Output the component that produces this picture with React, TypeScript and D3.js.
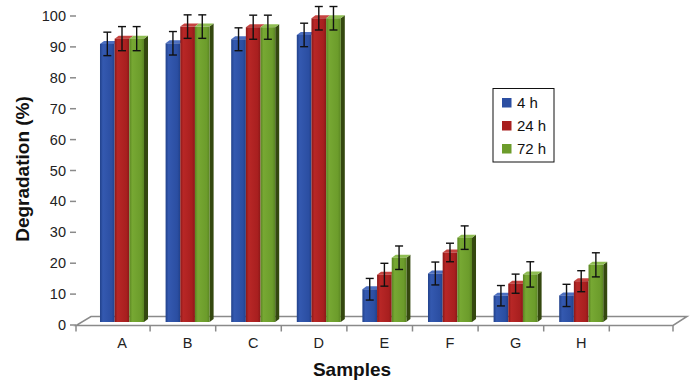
import React from "react";
import * as d3 from "d3";

const categories = ["A", "B", "C", "D", "E", "F", "G", "H", ""];
const seriesNames = ["4 h", "24 h", "72 h"];
const values4h = [90, 90.2, 91.5, 92.9, 10.6, 15.7, 8.5, 8.6];
const values24h = [91.7, 95.6, 95.4, 98.3, 15.3, 22.5, 12.4, 13.2];
const values72h = [91.7, 95.6, 95.4, 98.3, 20.8, 27.3, 15.4, 18.5];
const err4h = [3.8, 3.8, 3.7, 3.8, 3.5, 3.7, 3.3, 3.6];
const err24h = [3.9, 3.8, 3.9, 3.8, 3.7, 3.0, 3.1, 3.4];
const err72h = [3.9, 3.8, 3.9, 3.8, 3.8, 3.8, 4.1, 3.9];
const yTicks = [0, 10, 20, 30, 40, 50, 60, 70, 80, 90, 100];

const colors = [
  { base: "#2b4ea2", light: "#3459b0", dark: "#21418a", top: "#4d6fc0" },
  { base: "#a81f1f", light: "#b82726", dark: "#8a1818", top: "#c64440" },
  { base: "#6c9c2b", light: "#77a833", dark: "#5a8522", top: "#8fbd52" },
];
const sideColor = "#34480f";

const FONT = "'Liberation Sans', Arial, sans-serif";

export default function App() {
  const W = 690, H = 380;
  const y = d3.scaleLinear().domain([0, 100]).range([325, 16]);
  const x = d3.scaleBand<string>().domain(categories).range([89.2, 679.6]).paddingInner(0.329).paddingOuter(0.1645);
  const xs = d3.scaleBand<string>().domain(seriesNames).range([0, x.bandwidth()]);
  const series = [values4h, values24h, values72h];
  const errs = [err4h, err24h, err72h];
  const barLift = 3;
  const dx = 4, dy = -3;

  const floorFront = 325.5, floorBack = 316.5;
  const floorL = 76, floorR = 673, depthX = 15;

  const bars: React.ReactNode[] = [];
  const errBars: React.ReactNode[] = [];
  categories.slice(0, 8).forEach((c, i) => {
    const gx = x(c)!;
    series.forEach((s, k) => {
      const v = s[i];
      const x0 = gx + xs(seriesNames[k])!;
      const w = xs.bandwidth();
      const yt = y(v) - barLift;
      const yb = y(0) - barLift;
      const col = colors[k];
      bars.push(
        <g key={`b${i}-${k}`}>
          {k === 2 && (
            <path
              d={`M${x0 + w},${yt} L${x0 + w + dx},${yt + dy} L${x0 + w + dx},${yb + dy} L${x0 + w},${yb} Z`}
              fill={sideColor}
            />
          )}
          <path
            d={`M${x0},${yt} L${x0 + dx},${yt + dy} L${x0 + w + dx},${yt + dy} L${x0 + w},${yt} Z`}
            fill={col.top}
          />
          <rect x={x0} y={yt} width={w} height={yb - yt} fill={`url(#grad${k})`} />
        </g>
      );
      const cx = x0 + w / 2;
      const e = errs[k][i];
      const y1 = y(v + e) - barLift, y2 = y(v - e) - barLift;
      errBars.push(
        <g key={`e${i}-${k}`} stroke="#111" strokeWidth={1.4}>
          <line x1={cx} x2={cx} y1={y1} y2={y2} />
          <line x1={cx - 4} x2={cx + 4} y1={y1} y2={y1} />
          <line x1={cx - 4} x2={cx + 4} y1={y2} y2={y2} />
        </g>
      );
    });
  });

  const catTicks = [floorL, ...categories.slice(1).map((c) => x(c)! - 15.5), floorR];
  const ticksFinal = catTicks.slice(0, 9).concat([floorR]);

  return (
    <svg width={W} height={H} style={{ position: "absolute", left: 0, top: 0, background: "#fff" }}>
      <defs>
        {colors.map((c, k) => (
          <linearGradient key={k} id={`grad${k}`} x1="0" x2="1" y1="0" y2="0">
            <stop offset="0" stopColor={c.dark} />
            <stop offset="0.2" stopColor={c.light} />
            <stop offset="0.8" stopColor={c.base} />
            <stop offset="1" stopColor={c.dark} />
          </linearGradient>
        ))}
      </defs>
      <g stroke="#8a8a8a" strokeWidth={1.5} fill="none">
        <path d={`M${floorL},${floorFront} L${floorR},${floorFront} L${floorR + depthX - 1},${floorBack} L${floorL + depthX},${floorBack} Z`} />
        {ticksFinal.map((t, i) => (
          <line key={i} x1={t} x2={t} y1={floorFront} y2={floorFront + 6} />
        ))}
      </g>
      <g>
        {yTicks.map((t) => (
          <g key={t}>
            <line x1={70} x2={76} y1={y(t)} y2={y(t)} stroke="#8a8a8a" strokeWidth={1.5} />
            <text x={66} y={y(t)} dy="0.35em" textAnchor="end" fontFamily={FONT} fontSize={14.5} fill="#222">
              {t}
            </text>
          </g>
        ))}
      </g>
      {bars}
      {errBars}
      {categories.slice(0, 8).map((c) => (
        <text key={c} x={x(c)! + x.bandwidth() / 2} y={348} textAnchor="middle" fontFamily={FONT} fontSize={14.5} fill="#222">
          {c}
        </text>
      ))}
      <text x={352} y={376} textAnchor="middle" fontFamily={FONT} fontSize={19} fontWeight="bold" fill="#111">
        Samples
      </text>
      <text
        transform={`translate(29,169) rotate(-90)`}
        textAnchor="middle"
        fontFamily={FONT}
        fontSize={19}
        fontWeight="bold"
        fill="#111"
      >
        Degradation (%)
      </text>
      <g>
        <rect x={493} y={88.5} width={61} height={73.5} fill="#fff" stroke="#111" strokeWidth={1} />
        {seriesNames.map((n, k) => (
          <g key={n} transform={`translate(502,${98 + k * 23})`}>
            <rect x={0} y={0} width={9.5} height={9.5} fill={colors[k].base} />
            <text x={15} y={9.5} fontFamily={FONT} fontSize={15} fill="#111">
              {n}
            </text>
          </g>
        ))}
      </g>
    </svg>
  );
}
